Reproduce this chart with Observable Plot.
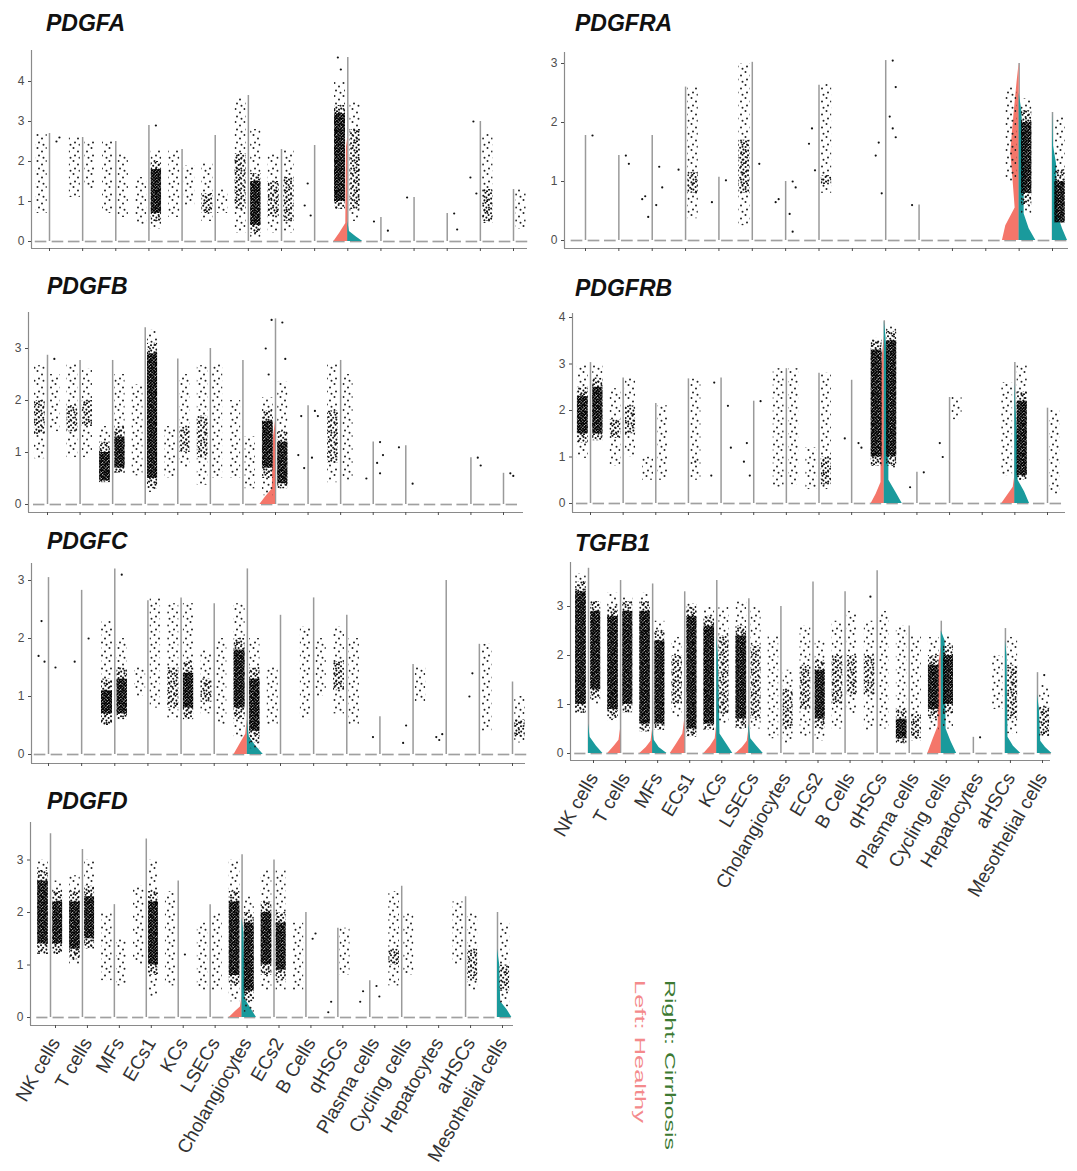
<!DOCTYPE html>
<html><head><meta charset="utf-8">
<script src="https://cdn.jsdelivr.net/npm/d3@7"></script>
<script src="https://cdn.jsdelivr.net/npm/@observablehq/plot@0.6"></script>
<style>
body{margin:0;background:#fff;}
#root{position:relative;width:1077px;height:1171px;overflow:hidden;background:#fff;}
.panel{position:absolute;}
.title{position:absolute;font:italic bold 23px "Liberation Sans",Arial,sans-serif;line-height:23px;color:#111;white-space:nowrap;}
</style></head><body>
<svg width="0" height="0" style="position:absolute">
<defs>
<pattern id="p1" patternUnits="userSpaceOnUse" width="9" height="13">
<circle cx="1.5" cy="2" r="1" fill="#222"/><circle cx="6" cy="5.5" r="1" fill="#222"/><circle cx="3" cy="9.5" r="1" fill="#222"/><circle cx="7.5" cy="11.8" r="1" fill="#222"/>
</pattern>
<pattern id="p2" patternUnits="userSpaceOnUse" width="10" height="10">
<circle cx="1" cy="1.2" r="1.05" fill="#111"/><circle cx="5.5" cy="0.8" r="1.05" fill="#111"/><circle cx="8.6" cy="3" r="1.05" fill="#111"/><circle cx="3.2" cy="3.8" r="1.05" fill="#111"/><circle cx="6.4" cy="5.6" r="1.05" fill="#111"/><circle cx="1.2" cy="6.6" r="1.05" fill="#111"/><circle cx="9" cy="7.6" r="1.05" fill="#111"/><circle cx="4.4" cy="8.4" r="1.05" fill="#111"/><circle cx="7" cy="9.4" r="1.05" fill="#111"/>
</pattern>
<pattern id="p3" patternUnits="userSpaceOnUse" width="6" height="6">
<rect width="6" height="6" fill="#222" fill-opacity="0.35"/>
<circle cx="0.8" cy="0.8" r="1.1" fill="#000"/><circle cx="3.6" cy="0.6" r="1.1" fill="#000"/><circle cx="5.4" cy="2.2" r="1.1" fill="#000"/><circle cx="2.2" cy="2.4" r="1.1" fill="#000"/><circle cx="4" cy="3.8" r="1.1" fill="#000"/><circle cx="0.9" cy="4.3" r="1.1" fill="#000"/><circle cx="5.6" cy="5" r="1.1" fill="#000"/><circle cx="2.6" cy="5.4" r="1.1" fill="#000"/>
</pattern>
</defs></svg>
<div id="root"></div>
<script>
const cells = ["NK cells","T cells","MFs","ECs1","KCs","LSECs","Cholangiocytes","ECs2","B Cells","qHSCs","Plasma cells","Cycling cells","Hepatocytes","aHSCs","Mesothelial cells"];
// cloud entries: [low, high, coreLow, coreHigh, coreDensity] ; violins: [cell, side, [[value, halfWidth],...]] ; dots: [cell, side, value]

const pdgfaTop = [2.7, 2.6, 2.5, 2.9, 2.3, 2.65, 3.65, 2.3, 2.4, 4.6, 0.6, 1.1, 0.7, 3.0, 1.3];
const pdgfaHealthy = [[0.7,2.7,0,0,0],[1.1,2.6,0,0,0],[0.7,2.5,0,0,0],[0.4,1.6,0,0,0],[0.6,2.3,0,0,0],[0.5,1.95,0.7,1.2,2],[0.2,3.6,0.8,2.2,2],[0.2,2.2,0.6,1.5,2],null,[0.8,4.0,1.0,3.2,3],null,null,null,null,null];
const pdgfaCirrhosis = [null,[1.3,2.5,0,0,0],[0.6,2.2,0,0,0],[0.3,2.3,0.7,1.8,3],[0.9,1.9,0,0,0],[0.7,1.3,0,0,0],[0.1,2.8,0.4,1.5,3],[0.2,2.3,0.5,1.6,2],null,[0.5,3.5,0.8,2.8,2],null,null,null,[0.45,2.7,0.5,1.3,2],[0.3,1.3,0,0,0]];
const pdgfaViolins = [[9,"H",[[0,0.42],[0.2,0.25],[0.45,0.06],[2.35,0.04],[2.6,0]]],[9,"C",[[0,0.45],[0.12,0.25],[0.25,0.05],[0.5,0]]]];
const pdgfaDots = [[0,"C",2.5],[0,"C",2.6],[8,"H",1.45],[8,"H",0.9],[8,"H",0.65],[9,"H",4.3],[9,"H",4.6],[3,"C",2.9],[10,"H",0.5],[10,"C",0.27],[11,"H",1.1],[12,"C",0.7],[12,"C",0.3],[13,"H",3.0],[13,"H",1.6],[13,"H",1.2]];

const pdgfraTop = [1.78, 1.44, 1.78, 2.6, 1.07, 3.02, 1.0, 2.63, 0, 3.05, 0.6, 0, 0, 3.0, 2.17];
const pdgfraHealthy = [null,null,null,null,null,[0.25,3.0,0.8,1.7,2],null,null,null,null,null,null,null,[1.0,2.6,0,0,0],null];
const pdgfraCirrhosis = [null,null,null,[0.37,2.6,0.8,1.15,2],null,null,null,[0.8,2.65,0.95,1.1,2],null,null,null,null,null,[0.45,2.4,0.8,2.0,3],[0.3,2.1,0.3,1.0,3]];
const pdgfraViolins = [[13,"H",[[0,0.5],[0.25,0.4],[0.55,0.12],[1.0,0.18],[1.5,0.25],[2.1,0.16],[2.7,0.06],[3.0,0]]],[13,"C",[[0,0.5],[0.2,0.3],[0.45,0.15],[1.2,0.15],[2.2,0.08],[2.5,0]]],[14,"C",[[0,0.45],[0.2,0.3],[0.45,0.15],[1.3,0.12],[1.6,0.03],[2.17,0]]]];
const pdgfraDots = [[0,"C",1.78],[1,"C",1.44],[1,"C",1.3],[2,"H",0.75],[2,"H",0.7],[2,"H",0.4],[2,"C",1.25],[2,"C",0.9],[2,"C",0.6],[3,"H",1.2],[4,"H",0.65],[4,"C",1.02],[5,"C",1.3],[6,"H",0.7],[6,"H",0.65],[6,"C",1.0],[6,"C",0.9],[6,"C",0.45],[6,"C",0.15],[7,"H",1.9],[7,"H",1.64],[7,"H",1.19],[9,"H",1.66],[9,"H",1.44],[9,"H",0.8],[9,"C",3.05],[9,"C",2.6],[9,"C",2.1],[9,"C",1.9],[9,"C",1.75],[10,"H",0.6]];

const pdgfbTop = [2.87, 2.77, 2.77, 3.4, 2.8, 3.0, 2.77, 3.57, 1.9, 2.77, 1.2, 1.13, 0, 0.9, 0.6];
const pdgfbHealthy = [[0.88,2.67,1.35,2.0,2],[0.9,2.7,1.4,1.9,2],[0.42,1.5,0.45,1.0,3],[0.55,2.3,0,0,0],[0.5,1.5,0,0,0],[0.37,2.67,0.9,1.7,2],[0.5,2.0,0,0,0],[0.17,2.05,0.7,1.6,3],null,[0.42,2.7,0.8,1.8,2],null,null,null,null,null];
const pdgfbCirrhosis = [[1.4,2.5,0,0,0],[0.9,2.6,1.5,2.0,2],[0.6,2.5,0.7,1.3,3],[0.23,3.35,0.5,2.9,3],[0.7,2.5,1.0,1.5,2],[0.5,2.7,0,0,0],[0.3,1.3,0,0,0],[0.3,2.35,0.4,1.2,3],null,[0.45,2.5,0,0,0],null,null,null,null,null];
const pdgfbViolins = [[7,"H",[[0,0.48],[0.15,0.3],[0.3,0.1],[1.3,0.06],[1.6,0]]]];
const pdgfbDots = [[7,"H",2.5],[7,"H",3.0],[7,"H",3.55],[7,"C",3.5],[7,"C",2.8],[8,"H",1.7],[8,"H",0.95],[8,"H",0.7],[8,"C",1.8],[8,"C",1.7],[8,"C",0.9],[10,"H",0.5],[10,"C",1.2],[10,"C",0.95],[10,"C",0.8],[10,"C",0.6],[11,"H",1.1],[11,"C",0.4],[13,"C",0.9],[13,"C",0.75],[14,"C",0.6],[14,"C",0.55],[0,"C",2.8]];

const pdgfrbTop = [3.03, 2.7, 2.15, 2.68, 2.7, 2.2, 2.9, 2.8, 2.65, 3.93, 0.67, 2.28, 0, 3.03, 2.05];
const pdgfrbHealthy = [[0.97,2.97,1.5,2.3,3],[0.8,2.47,1.4,1.8,2],[0.5,1.0,0,0,0],null,null,null,[0.35,2.9,0,0,0],[0.3,1.2,0,0,0],null,[0.8,3.55,1.0,3.3,3],null,null,null,[0.6,2.6,0,0,0],null];
const pdgfrbCirrhosis = [[1.35,2.97,1.5,2.5,3],[1.0,2.7,1.5,2.1,2],[0.5,2.1,0,0,0],[0.5,2.68,0,0,0],null,null,[0.4,2.9,0,0,0],[0.3,2.8,0.4,1.0,2],null,[0.75,3.83,1.0,3.5,3],null,[1.8,2.28,0,0,0],null,[0.5,2.97,0.6,2.2,3],[0.2,2.0,0,0,0]];
const pdgfrbViolins = [[9,"H",[[0,0.4],[0.2,0.25],[0.45,0.1],[1.5,0.1],[3.0,0.08],[3.6,0]]],[9,"C",[[0,0.55],[0.25,0.35],[0.5,0.14],[1.5,0.14],[3.0,0.1],[3.6,0.05],[3.93,0]]],[13,"H",[[0,0.4],[0.2,0.2],[0.35,0.05],[0.6,0]]],[13,"C",[[0,0.45],[0.25,0.3],[0.5,0.1],[1.5,0.08],[2.0,0.04],[2.6,0]]]];
const pdgfrbDots = [[4,"H",2.6],[4,"H",0.6],[4,"C",2.1],[4,"C",1.2],[5,"H",1.3],[5,"H",0.9],[5,"H",0.6],[5,"C",2.2],[8,"H",1.4],[8,"C",1.3],[8,"C",1.2],[10,"H",0.35],[10,"C",0.67],[11,"H",1.0],[11,"H",1.3],[3,"C",0.9]];

const pdgfcTop = [3.05, 2.83, 3.2, 2.65, 2.7, 2.6, 3.2, 2.4, 2.7, 2.4, 0.65, 1.55, 3.0, 1.9, 1.25];
const pdgfcHealthy = [null,null,[0.5,2.3,0.7,1.1,3],[1.0,1.5,0,0,0],[0.6,2.6,0.8,1.5,2],[0.7,1.8,0.9,1.3,2],[0.3,2.6,0.8,1.8,3],[0.5,1.5,0,0,0],[0.6,2.2,0,0,0],[0.7,2.2,1.1,1.6,2],null,null,null,null,null];
const pdgfcCirrhosis = [null,null,[0.6,2.0,0.7,1.3,3],[0.8,2.7,0,0,0],[0.6,2.6,0.8,1.4,3],[0.5,2.0,0,0,0],[0.1,2.0,0.4,1.3,3],null,[1.0,2.0,0,0,0],[0.5,2.0,0,0,0],null,[0.9,1.5,0,0,0],null,[0.4,1.9,0,0,0],[0.2,1.0,0.3,0.6,2]];
const pdgfcViolins = [[6,"H",[[0,0.4],[0.15,0.25],[0.35,0.05],[0.6,0]]],[6,"C",[[0,0.48],[0.15,0.25],[0.3,0.06],[0.6,0]]]];
const pdgfcDots = [[0,"H",2.3],[0,"H",1.7],[0,"H",1.6],[0,"C",1.5],[1,"H",1.6],[1,"C",2.0],[10,"H",0.3],[11,"H",0.5],[11,"H",0.2],[12,"H",0.25],[12,"H",0.3],[12,"H",0.35],[13,"H",1.4],[13,"H",1.0],[2,"C",3.1]];

const pdgfdTop = [3.5, 3.2, 2.15, 3.4, 2.6, 2.15, 3.1, 3.0, 2.0, 1.7, 0.7, 2.5, 0, 2.3, 2.0];
const pdgfdHealthy = [[1.2,3.0,1.4,2.6,3],[1.0,2.7,1.3,2.2,3],[0.7,2.0,0,0,0],[1.0,2.5,0,0,0],[0.6,2.4,0,0,0],[0.5,1.8,0,0,0],[0.3,3.0,0.8,2.2,3],[0.5,2.8,1.0,2.0,3],[0.5,1.8,0,0,0],null,null,[0.6,2.4,1.0,1.3,2],null,[1.0,2.2,0,0,0],null];
const pdgfdCirrhosis = [[1.2,2.6,1.4,2.2,3],[1.3,3.0,1.5,2.3,3],[0.6,1.5,0,0,0],[0.4,3.0,1.0,2.2,3],null,[0.5,2.0,0,0,0],[0.1,2.3,0.5,1.8,3],[0.5,2.8,0.9,1.8,3],null,[0.8,1.7,0,0,0],null,[0.8,2.0,0,0,0],null,[0.5,2.0,0.7,1.3,2],[0.2,1.8,0.5,1.0,2]];
const pdgfdViolins = [[6,"H",[[0,0.4],[0.12,0.2],[0.2,0.05],[0.4,0]]],[6,"C",[[0,0.45],[0.15,0.3],[0.35,0.1],[1.6,0.06],[1.9,0]]],[14,"C",[[0,0.45],[0.15,0.3],[0.3,0.1],[1.0,0.07],[1.3,0]]]];
const pdgfdDots = [[4,"C",1.2],[8,"C",1.5],[8,"C",1.6],[9,"H",0.3],[9,"H",0.1],[10,"H",0.5],[10,"H",0.3],[10,"C",0.6],[10,"C",0.4]];

const tgfb1Top = [3.78, 3.53, 3.46, 3.3, 3.53, 3.16, 3.0, 3.5, 3.3, 3.73, 2.6, 2.7, 0.33, 2.55, 1.65];
const tgfb1Healthy = [[0.82,3.67,1.0,3.3,3],[0.67,3.27,0.9,2.8,3],[0.44,3.27,0.6,2.9,3],[0.74,2.37,1.0,2.0,2],[0.47,3.0,0.6,2.6,3],[0.5,3.1,0.7,2.4,3],[0.3,2.4,0,0,0],[0.33,2.6,0.9,1.8,2],[0.5,2.7,1.0,2.0,2],[0.45,2.7,1.2,2.0,2],[0.2,2.6,0.3,0.7,3],[0.47,2.37,0.9,1.8,3],null,[0.9,2.0,0,0,0],null];
const tgfb1Cirrhosis = [[1.0,3.1,1.3,2.9,3],[0.83,3.2,1.0,2.9,3],[0.47,2.7,0.6,2.3,3],[0.33,3.06,0.5,2.8,3],[0.6,3.0,0.8,2.4,2],[0.5,3.0,0.7,2.2,2],[0.2,1.7,0.5,1.3,2],[0.25,2.3,0.7,1.7,3],[0.8,2.9,1.2,2.0,2],[0.5,2.9,0,0,0],[0.25,2.4,0.3,0.8,2],[0.5,2.4,1.0,2.0,3],null,[0.4,2.37,0.7,1.8,2],[0.35,1.4,0.35,0.95,2]];
const tgfb1Violins = [[0,"C",[[0,0.45],[0.15,0.25],[0.33,0.05],[0.6,0]]],[1,"H",[[0,0.4],[0.15,0.2],[0.27,0.05],[0.5,0]]],[2,"H",[[0,0.4],[0.12,0.2],[0.25,0.05],[0.5,0]]],[2,"C",[[0,0.45],[0.12,0.2],[0.27,0.05],[0.5,0]]],[3,"H",[[0,0.45],[0.2,0.25],[0.4,0.06],[0.7,0]]],[4,"H",[[0,0.4],[0.15,0.2],[0.3,0.05],[0.6,0]]],[4,"C",[[0,0.5],[0.2,0.3],[0.4,0.1],[2.0,0.05],[2.4,0]]],[5,"H",[[0,0.4],[0.12,0.2],[0.25,0.05],[0.5,0]]],[5,"C",[[0,0.45],[0.15,0.25],[0.3,0.06],[0.6,0]]],[11,"H",[[0,0.42],[0.3,0.25],[0.55,0.1],[1.8,0.08],[2.2,0]]],[11,"C",[[0,0.48],[0.25,0.3],[0.5,0.15],[2.3,0.12],[2.5,0]]],[13,"C",[[0,0.48],[0.15,0.25],[0.33,0.08],[2.0,0.05],[2.3,0]]],[14,"C",[[0,0.45],[0.12,0.25],[0.25,0.1],[0.9,0.06],[1.2,0]]]];
const tgfb1Dots = [[12,"C",0.33],[9,"H",3.2],[14,"C",1.6]];

const colorHealthy = "#F4766A", colorCirrhosis = "#1A9A9C";

const panels = [
  {gene:"PDGFA", top:pdgfaTop, healthy:pdgfaHealthy, cirrhosis:pdgfaCirrhosis, violins:pdgfaViolins, dots:pdgfaDots, ticks:[0,1,2,3,4],
   L:{left:0, zero:241, unit:40, fTop:50, fBot:248, yAxis:31, xEnd:527, c0:49, c14:513, titleX:46, titleY:12, labels:false, svgBottom:262}},
  {gene:"PDGFB", top:pdgfbTop, healthy:pdgfbHealthy, cirrhosis:pdgfbCirrhosis, violins:pdgfbViolins, dots:pdgfbDots, ticks:[0,1,2,3],
   L:{left:0, zero:504, unit:52, fTop:312, fBot:512, yAxis:28, xEnd:523, c0:47, c14:503, titleX:47, titleY:275, labels:false, svgBottom:526}},
  {gene:"PDGFC", top:pdgfcTop, healthy:pdgfcHealthy, cirrhosis:pdgfcCirrhosis, violins:pdgfcViolins, dots:pdgfcDots, ticks:[0,1,2,3],
   L:{left:0, zero:754, unit:58, fTop:563, fBot:763, yAxis:31, xEnd:525, c0:48, c14:512, titleX:47, titleY:530, labels:false, svgBottom:777}},
  {gene:"PDGFD", top:pdgfdTop, healthy:pdgfdHealthy, cirrhosis:pdgfdCirrhosis, violins:pdgfdViolins, dots:pdgfdDots, ticks:[0,1,2,3],
   L:{left:0, zero:1017, unit:52.5, fTop:822, fBot:1025, yAxis:30, xEnd:513, c0:50, c14:497, titleX:47, titleY:790, labels:true, svgBottom:1171}},
  {gene:"PDGFRA", top:pdgfraTop, healthy:pdgfraHealthy, cirrhosis:pdgfraCirrhosis, violins:pdgfraViolins, dots:pdgfraDots, ticks:[0,1,2,3],
   L:{left:537, zero:240, unit:59, fTop:52, fBot:248, yAxis:564, xEnd:1068, c0:585, c14:1052, titleX:575, titleY:12, labels:false, svgBottom:262}},
  {gene:"PDGFRB", top:pdgfrbTop, healthy:pdgfrbHealthy, cirrhosis:pdgfrbCirrhosis, violins:pdgfrbViolins, dots:pdgfrbDots, ticks:[0,1,2,3,4],
   L:{left:537, zero:503, unit:46.5, fTop:313, fBot:512, yAxis:572, xEnd:1065, c0:590, c14:1047, titleX:575, titleY:277, labels:false, svgBottom:526}},
  {gene:"TGFB1", top:tgfb1Top, healthy:tgfb1Healthy, cirrhosis:tgfb1Cirrhosis, violins:tgfb1Violins, dots:tgfb1Dots, ticks:[0,1,2,3],
   L:{left:537, zero:753, unit:49, fTop:562, fBot:760, yAxis:570, xEnd:1050, c0:588, c14:1037, titleX:575, titleY:532, labels:true, svgBottom:960}}
];

const root = document.getElementById("root");

function build(p) {
  const L = p.L;
  const step = (L.c14 - L.c0) / 14;
  const xd = [(L.yAxis - L.c0) / step, 14 + (L.xEnd - L.c14) / step];
  const yd = [(L.zero - L.fBot) / L.unit, (L.zero - L.fTop) / L.unit];
  const width = 540;
  const svgTop = L.fTop - 8;
  const height = L.svgBottom - svgTop;
  const marginTop = 8;
  const marginBottom = height - marginTop - (L.fBot - L.fTop);
  const marginLeft = L.yAxis - L.left;
  const marginRight = L.left + width - L.xEnd;

  const lines = p.top.map((t, i) => ({c: i, y0: 0, t})).filter(d => d.t > 0);
  const dashes = cells.flatMap((_, i) => [{y: 0, a: i - 0.43, b: i - 0.08}, {y: 0, a: i + 0.08, b: i + 0.43}]);
  const vrows = [];
  p.violins.forEach(([i, side, prof]) => {
    const s = side === "H" ? -1 : 1;
    prof.forEach(([v, w]) => vrows.push({key: i + side, side, c: i, v, xw: i + s * w}));
  });
  const clouds = [];
  [[p.healthy, -1], [p.cirrhosis, 1]].forEach(([arr, s]) => arr.forEach((d, i) => {
    if (!d) return;
    const [lo, hi, clo, chi, den] = d;
    const a = s < 0 ? i - 0.40 : i + 0.07, b = s < 0 ? i - 0.07 : i + 0.38;
    clouds.push({x1: a, x2: b, y1: lo, y2: hi, den: 1});
    if (den === 3) clouds.push({x1: a, x2: b, y1: Math.max(lo, clo - 0.2), y2: Math.min(hi, chi + 0.2), den: 2});
    if (den > 0) clouds.push({x1: a, x2: b, y1: clo, y2: chi, den});
  }));
  const counts = {};
  const dots = p.dots.map(([i, side, v]) => {
    const k = (counts[i + side] = (counts[i + side] || 0) + 1);
    const s = side === "H" ? -1 : 1;
    return {x: i + s * (0.12 + 0.09 * (k % 3)), v};
  });

  const chart = Plot.plot({
    width, height, marginTop, marginBottom, marginLeft, marginRight,
    style: {background: "transparent", color: "#4d4d4d", fontFamily: "'Liberation Sans', Arial, sans-serif", overflow: "visible"},
    x: {domain: xd, label: null},
    y: {domain: yd, label: null},
    marks: [
      Plot.ruleX(lines, {x: "c", y1: "y0", y2: "t", stroke: "#9a9a9a", strokeWidth: 1.5}),
      Plot.ruleY(dashes, {y: "y", x1: "a", x2: "b", stroke: "#a0a0a0", strokeWidth: 1.7}),
      Plot.areaX(vrows.filter(d => d.side === "H"), {y: "v", x1: "c", x2: "xw", z: "key", fill: colorHealthy, curve: "linear"}),
      Plot.areaX(vrows.filter(d => d.side === "C"), {y: "v", x1: "c", x2: "xw", z: "key", fill: colorCirrhosis, curve: "linear"}),
      Plot.rect(clouds.filter(d => d.den === 1), {x1: "x1", x2: "x2", y1: "y1", y2: "y2", fill: "url(#p1)"}),
      Plot.rect(clouds.filter(d => d.den === 2), {x1: "x1", x2: "x2", y1: "y1", y2: "y2", fill: "url(#p2)"}),
      Plot.rect(clouds.filter(d => d.den === 3), {x1: "x1", x2: "x2", y1: "y1", y2: "y2", fill: "url(#p3)"}),
      Plot.dot(dots, {x: "x", y: "v", r: 1.1, fill: "#111", stroke: null}),
      Plot.ruleX([xd[0]], {y1: yd[0], y2: yd[1], stroke: "#8a8a8a", strokeWidth: 1.2}),
      Plot.ruleY([yd[0]], {x1: xd[0], x2: xd[1], stroke: "#8a8a8a", strokeWidth: 1.2}),
      Plot.axisY({ticks: p.ticks, tickSize: 3, tickPadding: 4, fontSize: 12, tickFormat: d => String(d)}),
      Plot.axisX({ticks: d3.range(15), tickSize: 3, tickPadding: L.labels ? 11 : 3, dx: L.labels ? 5 : 0, fontSize: 19,
        fill: "#333", stroke: "#4d4d4d",
        tickRotate: L.labels ? -60 : 0, tickFormat: i => L.labels ? cells[i] : ""})
    ]
  });
  chart.classList.add("panel");
  chart.style.left = L.left + "px";
  chart.style.top = svgTop + "px";
  root.appendChild(chart);

  const t = document.createElement("div");
  t.className = "title";
  t.textContent = p.gene;
  t.style.left = L.titleX + "px";
  t.style.top = L.titleY + "px";
  root.appendChild(t);
}

panels.forEach(build);

// legend
const ns = "http://www.w3.org/2000/svg";
const lg = document.createElementNS(ns, "svg");
lg.setAttribute("width", 100); lg.setAttribute("height", 211);
lg.style.position = "absolute"; lg.style.left = "600px"; lg.style.top = "960px";
const legendItems = [["Right: Cirrhosis", "#3d7a33", 65, 170, 15], ["Left: Healthy", "#f48a8c", 35, 143, 14]];
legendItems.forEach(([txt, col, x, len, fs]) => {
  const el = document.createElementNS(ns, "text");
  el.setAttribute("transform", `translate(${x},20) rotate(90)`);
  el.setAttribute("fill", col);
  el.setAttribute("font-size", fs);
  el.setAttribute("font-family", "'Liberation Sans', Arial, sans-serif");
  el.setAttribute("textLength", len);
  el.setAttribute("lengthAdjust", "spacingAndGlyphs");
  el.textContent = txt;
  lg.appendChild(el);
});
root.appendChild(lg);
</script>
</body></html>
